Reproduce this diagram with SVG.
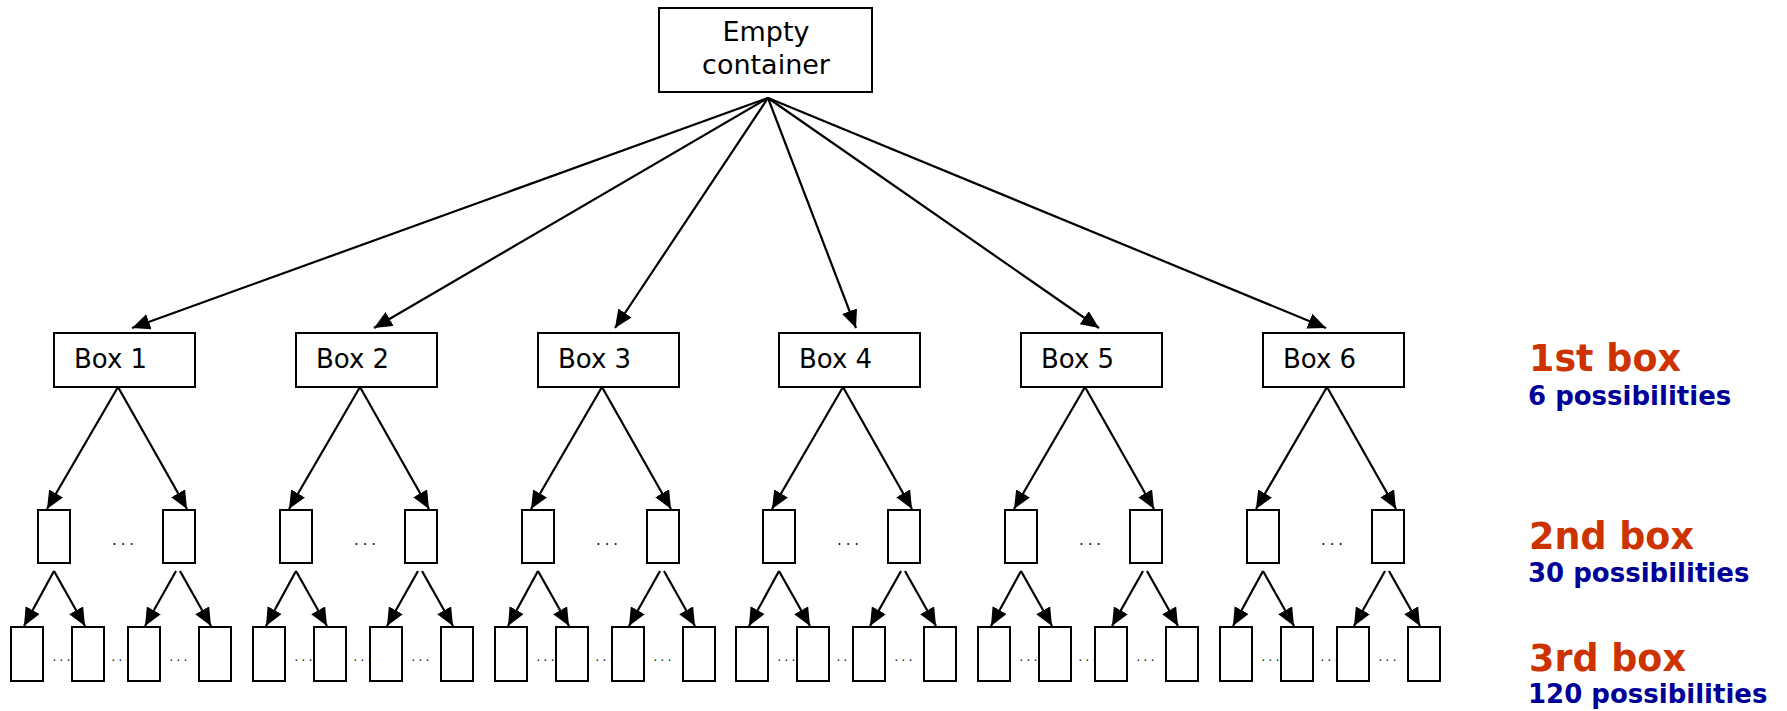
<svg xmlns="http://www.w3.org/2000/svg" width="1787" height="711" viewBox="0 0 1787 711">
<defs>
<marker id="ah" markerUnits="userSpaceOnUse" markerWidth="19" markerHeight="17" refX="18" refY="8" orient="auto">
<path d="M0,0 L18,8 L0,16 z" fill="#000"/>
</marker>
<style>
.box{fill:#fff;stroke:#000;stroke-width:2}
.lbl{font-family:"DejaVu Sans",Verdana,sans-serif;font-size:26px;fill:#000}
.rt{font-size:27px}
.c{fill:none;stroke:#000;stroke-width:2.2;marker-end:url(#ah)}
.d2{font-family:"DejaVu Sans",sans-serif;font-size:15px;letter-spacing:3.9px;fill:#111;text-anchor:middle}
.d3{font-family:"DejaVu Sans",sans-serif;font-size:13px;letter-spacing:3.1px;fill:#111;text-anchor:middle}
.h{font-family:"DejaVu Sans",Verdana,sans-serif;font-weight:bold;font-size:36.5px;fill:#cc3300}
.s{font-family:"DejaVu Sans",Verdana,sans-serif;font-weight:bold;font-size:26px;fill:#000099}
</style>
</defs>
<rect width="1787" height="711" fill="#fff"/>

<g id="connectors">
<line class="c" x1="768" y1="98" x2="132" y2="328"/>
<line class="c" x1="768" y1="98" x2="374" y2="328"/>
<line class="c" x1="768" y1="98" x2="615" y2="328"/>
<line class="c" x1="768" y1="98" x2="856" y2="328"/>
<line class="c" x1="768" y1="98" x2="1099" y2="328"/>
<line class="c" x1="768" y1="98" x2="1326" y2="328"/>

<line class="c" x1="118" y1="387" x2="47" y2="509"/>
<line class="c" x1="118" y1="387" x2="187" y2="509"/>
<line class="c" x1="54" y1="571" x2="24" y2="626"/>
<line class="c" x1="54" y1="571" x2="85" y2="626"/>
<line class="c" x1="176" y1="571" x2="145" y2="626"/>
<line class="c" x1="180" y1="571" x2="211" y2="626"/>

<line class="c" x1="360" y1="387" x2="289" y2="509"/>
<line class="c" x1="360" y1="387" x2="429" y2="509"/>
<line class="c" x1="296" y1="571" x2="266" y2="626"/>
<line class="c" x1="296" y1="571" x2="327" y2="626"/>
<line class="c" x1="418" y1="571" x2="387" y2="626"/>
<line class="c" x1="422" y1="571" x2="453" y2="626"/>

<line class="c" x1="602" y1="387" x2="531" y2="509"/>
<line class="c" x1="602" y1="387" x2="671" y2="509"/>
<line class="c" x1="538" y1="571" x2="508" y2="626"/>
<line class="c" x1="538" y1="571" x2="569" y2="626"/>
<line class="c" x1="660" y1="571" x2="629" y2="626"/>
<line class="c" x1="664" y1="571" x2="695" y2="626"/>

<line class="c" x1="843" y1="387" x2="772" y2="509"/>
<line class="c" x1="843" y1="387" x2="912" y2="509"/>
<line class="c" x1="779" y1="571" x2="749" y2="626"/>
<line class="c" x1="779" y1="571" x2="810" y2="626"/>
<line class="c" x1="901" y1="571" x2="870" y2="626"/>
<line class="c" x1="905" y1="571" x2="936" y2="626"/>

<line class="c" x1="1085" y1="387" x2="1014" y2="509"/>
<line class="c" x1="1085" y1="387" x2="1154" y2="509"/>
<line class="c" x1="1021" y1="571" x2="991" y2="626"/>
<line class="c" x1="1021" y1="571" x2="1052" y2="626"/>
<line class="c" x1="1143" y1="571" x2="1112" y2="626"/>
<line class="c" x1="1147" y1="571" x2="1178" y2="626"/>

<line class="c" x1="1327" y1="387" x2="1256" y2="509"/>
<line class="c" x1="1327" y1="387" x2="1396" y2="509"/>
<line class="c" x1="1263" y1="571" x2="1233" y2="626"/>
<line class="c" x1="1263" y1="571" x2="1294" y2="626"/>
<line class="c" x1="1385" y1="571" x2="1354" y2="626"/>
<line class="c" x1="1389" y1="571" x2="1420" y2="626"/>
</g>

<g id="root">
<rect class="box" x="659" y="8" width="213" height="84"/>
<text class="lbl rt" x="766" y="41" text-anchor="middle">Empty</text>
<text class="lbl rt" x="766" y="74" text-anchor="middle">container</text>
</g>

<g id="box1">
<rect class="box" x="54" y="333" width="141" height="54"/>
<text class="lbl" x="74" y="368">Box 1</text>
</g>
<g id="box1-level2">
<rect class="box" x="38" y="510" width="32" height="53"/>
<rect class="box" x="163" y="510" width="32" height="53"/>
<text class="d2" x="125" y="545">...</text>
</g>
<g id="box1-level3">
<rect class="box" x="11" y="627" width="32" height="54"/>
<rect class="box" x="72" y="627" width="32" height="54"/>
<rect class="box" x="128" y="627" width="32" height="54"/>
<rect class="box" x="199" y="627" width="32" height="54"/>
<text class="d3" x="63" y="661">...</text>
<text class="d3" x="122" y="661">...</text>
<text class="d3" x="180" y="661">...</text>
</g>

<g id="box2">
<rect class="box" x="296" y="333" width="141" height="54"/>
<text class="lbl" x="316" y="368">Box 2</text>
</g>
<g id="box2-level2">
<rect class="box" x="280" y="510" width="32" height="53"/>
<rect class="box" x="405" y="510" width="32" height="53"/>
<text class="d2" x="367" y="545">...</text>
</g>
<g id="box2-level3">
<rect class="box" x="253" y="627" width="32" height="54"/>
<rect class="box" x="314" y="627" width="32" height="54"/>
<rect class="box" x="370" y="627" width="32" height="54"/>
<rect class="box" x="441" y="627" width="32" height="54"/>
<text class="d3" x="305" y="661">...</text>
<text class="d3" x="364" y="661">...</text>
<text class="d3" x="422" y="661">...</text>
</g>

<g id="box3">
<rect class="box" x="538" y="333" width="141" height="54"/>
<text class="lbl" x="558" y="368">Box 3</text>
</g>
<g id="box3-level2">
<rect class="box" x="522" y="510" width="32" height="53"/>
<rect class="box" x="647" y="510" width="32" height="53"/>
<text class="d2" x="609" y="545">...</text>
</g>
<g id="box3-level3">
<rect class="box" x="495" y="627" width="32" height="54"/>
<rect class="box" x="556" y="627" width="32" height="54"/>
<rect class="box" x="612" y="627" width="32" height="54"/>
<rect class="box" x="683" y="627" width="32" height="54"/>
<text class="d3" x="547" y="661">...</text>
<text class="d3" x="606" y="661">...</text>
<text class="d3" x="664" y="661">...</text>
</g>

<g id="box4">
<rect class="box" x="779" y="333" width="141" height="54"/>
<text class="lbl" x="799" y="368">Box 4</text>
</g>
<g id="box4-level2">
<rect class="box" x="763" y="510" width="32" height="53"/>
<rect class="box" x="888" y="510" width="32" height="53"/>
<text class="d2" x="850" y="545">...</text>
</g>
<g id="box4-level3">
<rect class="box" x="736" y="627" width="32" height="54"/>
<rect class="box" x="797" y="627" width="32" height="54"/>
<rect class="box" x="853" y="627" width="32" height="54"/>
<rect class="box" x="924" y="627" width="32" height="54"/>
<text class="d3" x="788" y="661">...</text>
<text class="d3" x="847" y="661">...</text>
<text class="d3" x="905" y="661">...</text>
</g>

<g id="box5">
<rect class="box" x="1021" y="333" width="141" height="54"/>
<text class="lbl" x="1041" y="368">Box 5</text>
</g>
<g id="box5-level2">
<rect class="box" x="1005" y="510" width="32" height="53"/>
<rect class="box" x="1130" y="510" width="32" height="53"/>
<text class="d2" x="1092" y="545">...</text>
</g>
<g id="box5-level3">
<rect class="box" x="978" y="627" width="32" height="54"/>
<rect class="box" x="1039" y="627" width="32" height="54"/>
<rect class="box" x="1095" y="627" width="32" height="54"/>
<rect class="box" x="1166" y="627" width="32" height="54"/>
<text class="d3" x="1030" y="661">...</text>
<text class="d3" x="1089" y="661">...</text>
<text class="d3" x="1147" y="661">...</text>
</g>

<g id="box6">
<rect class="box" x="1263" y="333" width="141" height="54"/>
<text class="lbl" x="1283" y="368">Box 6</text>
</g>
<g id="box6-level2">
<rect class="box" x="1247" y="510" width="32" height="53"/>
<rect class="box" x="1372" y="510" width="32" height="53"/>
<text class="d2" x="1334" y="545">...</text>
</g>
<g id="box6-level3">
<rect class="box" x="1220" y="627" width="32" height="54"/>
<rect class="box" x="1281" y="627" width="32" height="54"/>
<rect class="box" x="1337" y="627" width="32" height="54"/>
<rect class="box" x="1408" y="627" width="32" height="54"/>
<text class="d3" x="1272" y="661">...</text>
<text class="d3" x="1331" y="661">...</text>
<text class="d3" x="1389" y="661">...</text>
</g>

<g id="legend">
<text class="h" x="1529" y="371">1st box</text>
<text class="s" x="1528" y="405">6 possibilities</text>
<text class="h" x="1529" y="549">2nd box</text>
<text class="s" x="1528" y="582">30 possibilities</text>
<text class="h" x="1529" y="671">3rd box</text>
<text class="s" x="1528" y="703">120 possibilities</text>
</g>
</svg>
